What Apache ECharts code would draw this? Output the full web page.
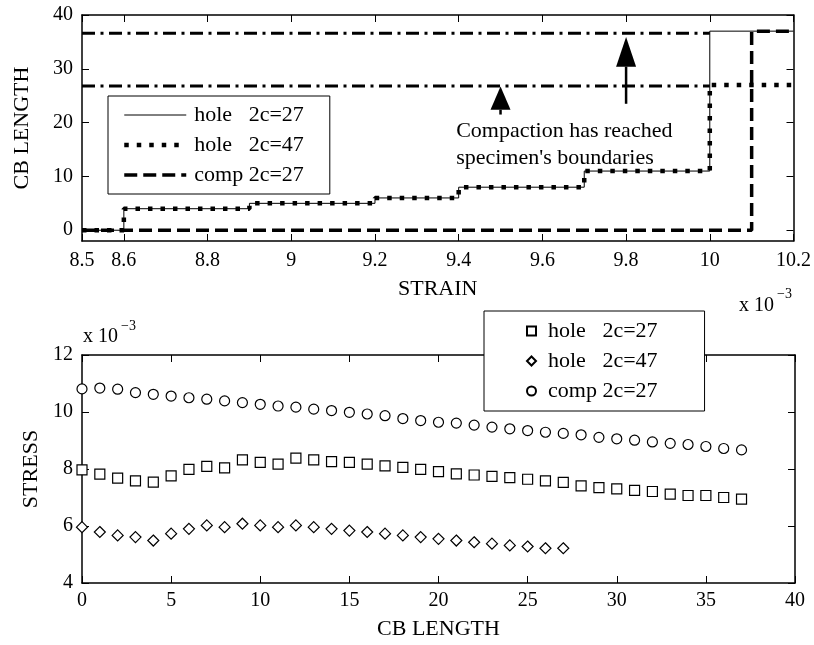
<!DOCTYPE html>
<html>
<head>
<meta charset="utf-8">
<title>CB length / stress</title>
<script src="https://cdn.jsdelivr.net/npm/echarts/dist/echarts.min.js"></script>
<style>
	html,body{margin:0;padding:0;background:#fff;}
	#main{width:814px;height:645px;}
</style>
</head>
<body>
<div id="main"></div>
<script>
// 上图：应变 - CB长度（阶梯线）
var strainHole=[8.5,8.6,8.9,9.2,9.4,9.7,10.0,10.2];
var lenHole27=[0,4,5,6,8,11,37,37];
var lenHole47=[0,4,5,6,8,11,27,27];
var strainComp=[8.5,10.1,10.2];
var lenComp=[0,37,37];
// 点划线（边界）
var strainRef=[8.5,10.0];
var lenRefUpper=[36.6,36.6];
var lenRefLower=[26.8,26.8];
var strainTicks=[8.5,8.6,8.8,9,9.2,9.4,9.6,9.8,10,10.2];
var lenTicks=[0,10,20,30,40];

// 下图：CB长度 - 应力 (x 10^-3)
var cbLength=[0,1,2,3,4,5,6,7,8,9,10,11,12,13,14,15,16,17,18,19,20,21,22,23,24,25,26,27,28,29,30,31,32,33,34,35,36,37];
var stressHole27=[7.97,7.82,7.68,7.58,7.54,7.76,7.99,8.09,8.04,8.32,8.23,8.17,8.38,8.32,8.26,8.23,8.17,8.11,8.06,7.99,7.91,7.83,7.79,7.74,7.70,7.64,7.58,7.53,7.41,7.35,7.30,7.25,7.21,7.12,7.07,7.07,7.00,6.94];
var stressHole47=[5.96,5.79,5.67,5.61,5.49,5.73,5.90,6.02,5.96,6.08,6.02,5.96,6.02,5.96,5.90,5.84,5.79,5.73,5.67,5.61,5.55,5.49,5.43,5.38,5.32,5.28,5.22,5.22];
var stressComp=[10.81,10.84,10.80,10.68,10.62,10.56,10.50,10.45,10.39,10.33,10.27,10.21,10.17,10.10,10.05,9.99,9.93,9.87,9.77,9.70,9.64,9.61,9.54,9.47,9.41,9.35,9.29,9.25,9.20,9.11,9.06,9.01,8.95,8.90,8.86,8.79,8.72,8.67];

// 箭头标注（数据坐标）
var arrowX=[9.5,9.8];
var arrowTip=[26.7,35.9];
var arrowBase=[22.4,30.4];
var arrowTail=[21.5,23.5];

var FONT='"Liberation Serif", "Times New Roman", serif';

// 线型
var DOT_W=4.5, DOT_TYPE=[4.5,8];
var DASH_W=3.5, DASH_TYPE=[13,6];
var DASHDOT_TYPE=[13,5.5,3,5.5];

function zip(xs,ys){
	var out=[];
	for(var i=0;i<ys.length;i++){
		out.push([xs[i],ys[i]]);
	}
	return out;
}
function trimName(name){
	return name.replace(/\s+$/,'');
}

// 坐标轴公共样式
function axisBase(gi,pos,showLabel,min,max){
	return {
		type:'value',
		gridIndex:gi,
		position:pos,
		min:min,
		max:max,
		axisLine:{onZero:false,lineStyle:{color:'#000',width:1.5}},
		axisTick:{inside:true,length:7,lineStyle:{color:'#000',width:1}},
		axisLabel:{show:showLabel,color:'#000',fontSize:20,fontFamily:FONT},
		splitLine:{show:false}
	};
}

var xTopMain=axisBase(0,'bottom',true,8.5,10.2);
xTopMain.axisTick.customValues=strainTicks;
xTopMain.axisLabel.customValues=strainTicks;
xTopMain.axisLabel.margin=10;
xTopMain.name='STRAIN';
xTopMain.nameLocation='middle';
xTopMain.nameGap=37;
xTopMain.nameTextStyle={color:'#000',fontSize:22,fontFamily:FONT};

var xTopBox=axisBase(0,'top',false,8.5,10.2);
xTopBox.axisTick.customValues=strainTicks;

var yTopMain=axisBase(0,'left',true,-2,40);
yTopMain.axisTick.customValues=lenTicks;
yTopMain.axisLabel.customValues=lenTicks;
yTopMain.axisLabel.margin=9;
yTopMain.name='CB LENGTH';
yTopMain.nameLocation='middle';
yTopMain.nameGap=49;
yTopMain.nameTextStyle={color:'#000',fontSize:22,fontFamily:FONT};

var yTopBox=axisBase(0,'right',false,-2,40);
yTopBox.axisTick.customValues=lenTicks;

var xBotMain=axisBase(1,'bottom',true,0,40);
xBotMain.interval=5;
xBotMain.axisLabel.margin=8;
xBotMain.name='CB LENGTH';
xBotMain.nameLocation='middle';
xBotMain.nameGap=35;
xBotMain.nameTextStyle={color:'#000',fontSize:22,fontFamily:FONT};

var xBotBox=axisBase(1,'top',false,0,40);
xBotBox.interval=5;

var yBotMain=axisBase(1,'left',true,4,12);
yBotMain.interval=2;
yBotMain.axisLabel.margin=9;
yBotMain.name='STRESS';
yBotMain.nameLocation='middle';
yBotMain.nameGap=26;
yBotMain.nameTextStyle={color:'#000',fontSize:22,fontFamily:FONT};

var yBotBox=axisBase(1,'right',false,4,12);
yBotBox.interval=2;

// 阶梯线
function stepSeries(name,xs,ys,width,type,z){
	return {
		type:'line',
		name:name,
		step:'end',
		symbol:'none',
		data:zip(xs,ys),
		itemStyle:{color:'#000',opacity:0},
		lineStyle:{color:'#000',width:width,type:type},
		z:z
	};
}

// 空心散点
function scatterSeries(name,symbol,size,data){
	return {
		type:'scatter',
		name:name,
		xAxisIndex:2,
		yAxisIndex:2,
		symbol:symbol,
		symbolSize:size,
		data:data,
		itemStyle:{color:'#fff',borderColor:'#000',borderWidth:1.2,opacity:1},
		z:3
	};
}

var legendText={color:'#000',fontSize:22,fontFamily:FONT,lineHeight:22};

var chart=echarts.init(document.getElementById('main'),null,{renderer:'canvas'});
var option={
	animation:false,
	backgroundColor:'#fff',
	textStyle:{fontFamily:FONT},
	grid:[
		{left:82,right:19,top:15,height:226},
		{left:82,right:19,top:355,height:228}
	],
	xAxis:[xTopMain,xTopBox,xBotMain,xBotBox],
	yAxis:[yTopMain,yTopBox,yBotMain,yBotBox],
	legend:[{
		orient:'vertical',
		left:108,
		top:96,
		itemWidth:62,
		itemHeight:14,
		itemGap:8,
		padding:[8,26,8,14],
		borderColor:'#000',
		borderWidth:1,
		backgroundColor:'#fff',
		selectedMode:false,
		formatter:trimName,
		itemStyle:{opacity:0},
		textStyle:Object.assign({padding:[0,0,0,3]},legendText),
		data:[
			{name:'hole   2c=27',lineStyle:{color:'#000',width:1,type:'solid'}},
			{name:'hole   2c=47',lineStyle:{color:'#000',width:DOT_W,type:DOT_TYPE}},
			{name:'comp 2c=27',lineStyle:{color:'#000',width:DASH_W,type:DASH_TYPE}}
		]
	},{
		orient:'vertical',
		left:484,
		top:311,
		itemWidth:9,
		itemHeight:9,
		itemGap:8,
		padding:[9,47,9,42],
		borderColor:'#000',
		borderWidth:1,
		backgroundColor:'#fff',
		selectedMode:false,
		formatter:trimName,
		textStyle:Object.assign({padding:[0,0,0,7]},legendText),
		data:['hole   2c=27 ','hole   2c=47 ','comp 2c=27 ']
	}],
	series:[
		stepSeries('hole   2c=47',strainHole,lenHole47,DOT_W,DOT_TYPE,2),
		stepSeries('hole   2c=27',strainHole,lenHole27,1,'solid',3),
		stepSeries('comp 2c=27',strainComp,lenComp,DASH_W,DASH_TYPE,2),
		{
			type:'line',
			name:'ref upper',
			symbol:'none',
			silent:true,
			data:zip(strainRef,lenRefUpper),
			lineStyle:{color:'#000',width:3,type:DASHDOT_TYPE},
			z:1
		},
		{
			type:'line',
			name:'ref lower',
			symbol:'none',
			silent:true,
			data:zip(strainRef,lenRefLower),
			lineStyle:{color:'#000',width:3,type:DASHDOT_TYPE},
			z:1
		},
		scatterSeries('hole   2c=27 ','rect',10,zip(cbLength,stressHole27)),
		scatterSeries('hole   2c=47 ','diamond',11,zip(cbLength,stressHole47)),
		scatterSeries('comp 2c=27 ','circle',10,zip(cbLength,stressComp))
	]
};
chart.setOption(option);

// 箭头与说明文字、x10^-3 标注
function toPx(x,y){
	return chart.convertToPixel({xAxisIndex:0,yAxisIndex:0},[x,y]);
}
var graphics=[];
for(var i=0;i<arrowX.length;i++){
	var tip=toPx(arrowX[i],arrowTip[i]);
	var base=toPx(arrowX[i],arrowBase[i]);
	var tail=toPx(arrowX[i],arrowTail[i]);
	graphics.push({
		type:'line',
		shape:{x1:tail[0],y1:tail[1],x2:base[0],y2:base[1]},
		style:{stroke:'#000',lineWidth:2.5},
		z:10
	});
	graphics.push({
		type:'polygon',
		shape:{points:[[tip[0],tip[1]],[base[0]-10,base[1]],[base[0]+10,base[1]]]},
		style:{fill:'#000'},
		z:10
	});
}
var note1=toPx(9.394,18.4);
var note2=toPx(9.394,13.4);
function txt(x,y,s,size){
	return {
		type:'text',
		x:x,
		y:y,
		z:10,
		style:{text:s,fill:'#000',fontSize:size,fontFamily:FONT,align:'left',verticalAlign:'middle',textAlign:'left',textVerticalAlign:'middle'}
	};
}
graphics.push(txt(note1[0],note1[1],'Compaction has reached',22));
graphics.push(txt(note2[0],note2[1],"specimen's boundaries",22));
graphics.push(txt(739,306,'x 10',20));
graphics.push(txt(777,294,'\u22123',14));
graphics.push(txt(83,337,'x 10',20));
graphics.push(txt(121,326,'\u22123',14));
chart.setOption({graphic:{elements:graphics}});
</script>
</body>
</html>
